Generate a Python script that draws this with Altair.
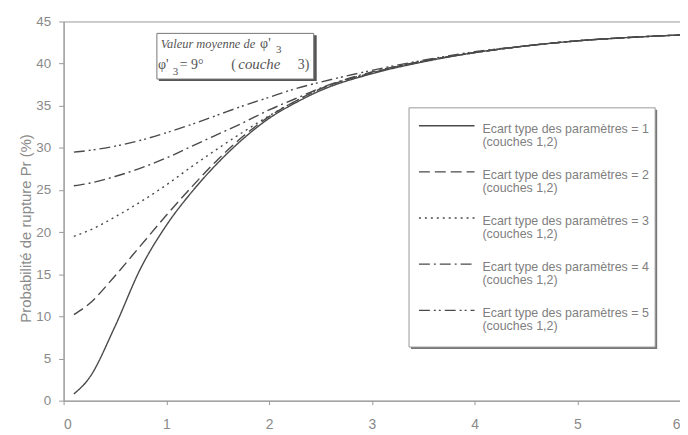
import altair as alt
import pandas as pd

# ---- data ----
x_vals = [0.1, 0.25, 0.5, 0.75, 1.0, 1.25, 1.5, 1.75, 2.0, 2.25, 2.5, 3.0, 3.5, 4.0, 4.5, 5.0, 5.5, 6.0]
s1 = [0.8, 2.7, 8.8, 15.7, 20.8, 24.8, 28.2, 31.1, 33.5, 35.3, 36.8, 38.8, 40.2, 41.3, 42.1, 42.7, 43.1, 43.4]
s2 = [10.2, 11.5, 14.8, 18.4, 22.0, 25.4, 28.6, 31.4, 33.7, 35.5, 37.0, 38.9, 40.3, 41.3, 42.1, 42.7, 43.1, 43.4]
s3 = [19.5, 20.2, 21.8, 23.6, 25.6, 27.8, 29.9, 31.9, 33.8, 35.5, 37.0, 38.9, 40.3, 41.3, 42.1, 42.7, 43.1, 43.4]
s4 = [25.5, 25.8, 26.6, 27.6, 28.8, 30.2, 31.6, 33.0, 34.5, 35.8, 37.1, 39.0, 40.3, 41.3, 42.1, 42.7, 43.1, 43.4]
s5 = [29.5, 29.7, 30.2, 30.9, 31.8, 32.8, 33.9, 35.0, 36.0, 37.0, 37.8, 39.2, 40.4, 41.4, 42.1, 42.7, 43.1, 43.4]
series_names = ["1", "2", "3", "4", "5"]
legend_line1 = ["Ecart type des paramètres = 1", "Ecart type des paramètres = 2",
                "Ecart type des paramètres = 3", "Ecart type des paramètres = 4",
                "Ecart type des paramètres = 5"]
legend_line2 = ["(couches 1,2)"] * 5
x_ticks = [0, 1, 2, 3, 4, 5, 6]
y_ticks = [0, 5, 10, 15, 20, 25, 30, 35, 40, 45]
y_title = "Probabilité de rupture   Pr (%)"

rows = []
for name, vals in zip(series_names, [s1, s2, s3, s4, s5]):
    for xv, yv in zip(x_vals, vals):
        rows.append({"series": name, "x": xv, "y": yv})
df = pd.DataFrame(rows)

leg = pd.DataFrame({"series": series_names, "l1": legend_line1, "l2": legend_line2,
                    "row": list(range(5))})

dash_range = [[1, 0], [11, 5], [2, 4], [11, 4, 2, 4], [11, 4, 2, 3, 2, 4]]
dash = alt.StrokeDash("series:N", scale=alt.Scale(domain=series_names, range=dash_range), legend=None)

GRAY = "#8a8a8a"
LINE = "#4a4a4a"

lines = alt.Chart(df).mark_line(color=LINE, strokeWidth=1.4, interpolate="monotone").encode(
    x=alt.X("x:Q", scale=alt.Scale(domain=[0, 6], nice=False),
            axis=alt.Axis(values=x_ticks, title=None, grid=False, format="d",
                          labelColor=GRAY, labelFontSize=14, labelFont="Liberation Sans",
                          domainColor="#999", tickColor="#999", tickSize=4, labelPadding=13)),
    y=alt.Y("y:Q", scale=alt.Scale(domain=[0, 45], nice=False),
            axis=alt.Axis(values=y_ticks, title=y_title, grid=False,
                          labelColor=GRAY, labelFontSize=13.5, labelFont="Liberation Sans",
                          domainColor="#999", tickColor="#999", tickSize=5, labelPadding=8,
                          titleX=-38, titleY=208, titleAngle=-90, titleAlign="center",
                          titleBaseline="middle", titleFontSize=15, titleFontWeight="normal",
                          titleColor=GRAY, titleFont="Liberation Sans")),
    strokeDash=dash,
    detail="series:N",
)

one = pd.DataFrame({"a": [0]})

# legend box with shadow
leg_shadow = alt.Chart(one).mark_rect(fill="#777").encode(
    x=alt.value(350), x2=alt.value(598), y=alt.value(89), y2=alt.value(330))
leg_box = alt.Chart(one).mark_rect(fill="white", stroke="#999", strokeWidth=1).encode(
    x=alt.value(348), x2=alt.value(596), y=alt.value(87), y2=alt.value(328))

leg_sym = alt.Chart(leg).transform_calculate(py="105 + 46.5*datum.row").mark_rule(
    color=LINE, strokeWidth=1.4).encode(
    x=alt.value(358), x2=alt.value(414), y=alt.Y("py:Q", scale=None), strokeDash=dash)
leg_t1 = alt.Chart(leg).transform_calculate(py="108 + 46.5*datum.row").mark_text(
    align="left", baseline="middle", fontSize=12.5, color="#808080", font="Liberation Sans").encode(
    x=alt.value(422), y=alt.Y("py:Q", scale=None), text="l1:N")
leg_t2 = alt.Chart(leg).transform_calculate(py="121 + 46.5*datum.row").mark_text(
    align="left", baseline="middle", fontSize=12.5, color="#808080", font="Liberation Sans").encode(
    x=alt.value(422), y=alt.Y("py:Q", scale=None), text="l2:N")

# annotation box
ann_shadow = alt.Chart(one).mark_rect(fill="#555").encode(
    x=alt.value(96), x2=alt.value(255), y=alt.value(14), y2=alt.value(60))
ann_box = alt.Chart(one).mark_rect(fill="white", stroke="#777", strokeWidth=1).encode(
    x=alt.value(94), x2=alt.value(252), y=alt.value(12), y2=alt.value(58))

SERIF = "Liberation Serif"
def txt(s, x, y, size=14, italic=False):
    return alt.Chart(pd.DataFrame({"t": [s]})).mark_text(
        align="left", baseline="alphabetic", fontSize=size, color="#555", font=SERIF,
        fontStyle="italic" if italic else "normal").encode(
        x=alt.value(x), y=alt.value(y), text="t:N")

ann = [
    txt("Valeur  moyenne  de", 98, 27, 12.5, True),
    txt("φ'", 198, 27, 14),
    txt("3", 214, 32, 11),
    txt("φ'", 95, 48, 14),
    txt("3", 110, 54, 11),
    txt("= 9°", 117, 48, 14),
    txt("(", 169, 48, 14),
    txt("couche", 176, 48, 15, True),
    txt("3)", 236, 48, 14),
]

chart = alt.layer(lines, leg_shadow, leg_box, leg_sym, leg_t1, leg_t2,
                  ann_shadow, ann_box, *ann).properties(
    width=621, height=382,
    autosize=alt.AutoSizeParams(type="none"),
    padding={"left": 56, "top": 12, "right": 0, "bottom": 30},
).configure_view(stroke="#999", strokeWidth=1)

chart.save("out.html", embed_options={"renderer": "svg", "actions": False})
